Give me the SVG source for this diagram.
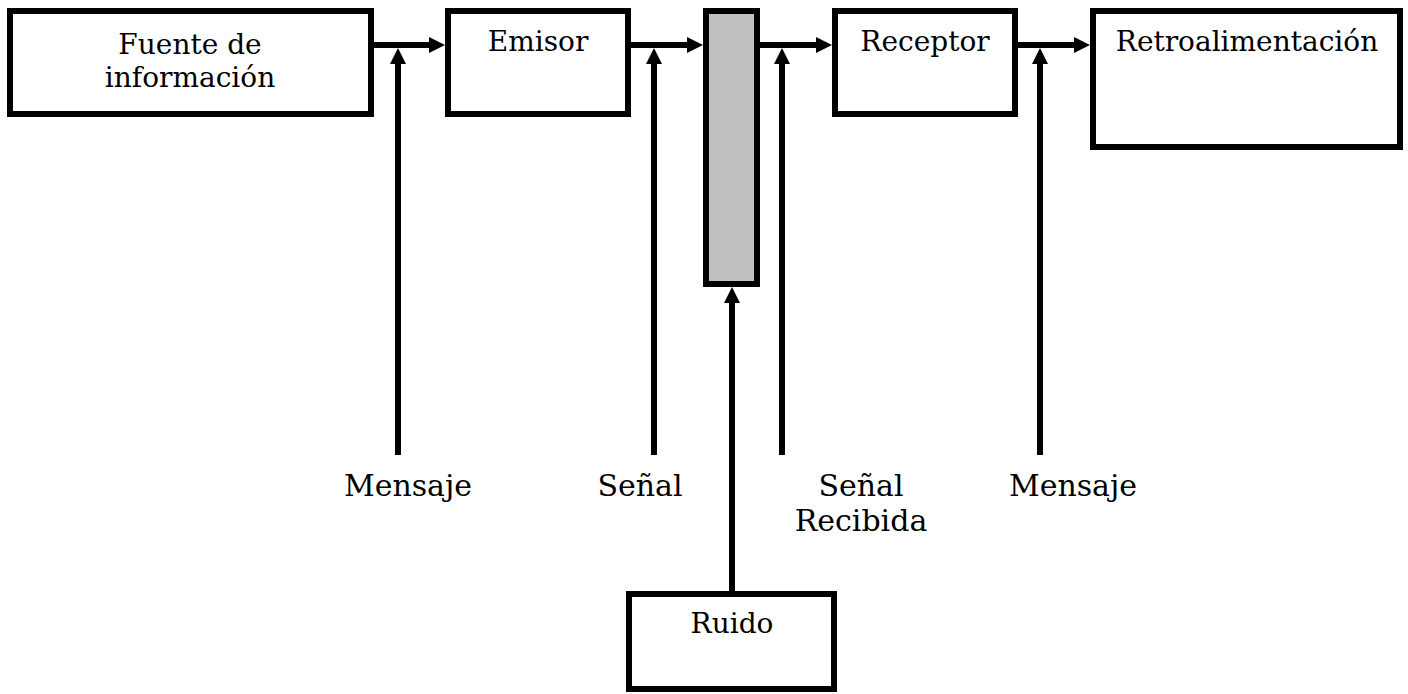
<svg xmlns="http://www.w3.org/2000/svg" width="1408" height="694" viewBox="0 0 1408 694">
<style>
.box{fill:#fff;stroke:#000;stroke-width:6}
.bar{fill:#c0c0c0;stroke:#000;stroke-width:6}
.ln{fill:none;stroke:#000;stroke-width:6;marker-end:url(#ah)}
.t{font-family:"DejaVu Serif","Liberation Serif",serif;font-size:28px;fill:#000;text-anchor:middle}
.lb{font-family:"DejaVu Serif","Liberation Serif",serif;font-size:30px;fill:#000;text-anchor:middle}
</style>
<defs>
<marker id="ah" markerUnits="userSpaceOnUse" markerWidth="16" markerHeight="16" refX="2" refY="8" orient="auto" viewBox="0 0 16 16">
<path d="M0,0 L16,8 L0,16 z" fill="#000"/>
</marker>
</defs>
<rect width="1408" height="694" fill="#fff"/>
<g id="fuente"><rect class="box" x="10" y="11" width="361" height="103"/><text class="t" x="190" y="54">Fuente de</text><text class="t" x="190" y="87">información</text></g>
<g id="emisor"><rect class="box" x="448" y="11" width="180" height="103"/><text class="t" x="538" y="51">Emisor</text></g>
<g id="canal"><rect class="bar" x="706" y="11" width="51" height="273"/></g>
<g id="receptor"><rect class="box" x="835" y="11" width="180" height="103"/><text class="t" x="925" y="51">Receptor</text></g>
<g id="retro"><rect class="box" x="1093" y="11" width="307" height="136"/><text class="t" x="1247" y="51">Retroalimentación</text></g>
<g id="ruido"><rect class="box" x="629" y="594" width="205" height="95"/><text class="t" x="732" y="633">Ruido</text></g>
<g id="connectors">
<line class="ln" x1="371" y1="45" x2="431" y2="45"/>
<line class="ln" x1="628" y1="45" x2="689" y2="45"/>
<line class="ln" x1="757" y1="45" x2="818" y2="45"/>
<line class="ln" x1="1015" y1="45" x2="1076" y2="45"/>
<line class="ln" x1="398" y1="455" x2="398" y2="62"/>
<line class="ln" x1="654" y1="455" x2="654" y2="62"/>
<line class="ln" x1="782" y1="455" x2="782" y2="62"/>
<line class="ln" x1="1040" y1="455" x2="1040" y2="62"/>
<line class="ln" x1="732" y1="591" x2="732" y2="301"/>
</g>
<g id="labels">
<text class="lb" x="408" y="496">Mensaje</text>
<text class="lb" x="640" y="496">Señal</text>
<text class="lb" x="861" y="496">Señal</text>
<text class="lb" x="861" y="531">Recibida</text>
<text class="lb" x="1073" y="496">Mensaje</text>
</g>
</svg>
